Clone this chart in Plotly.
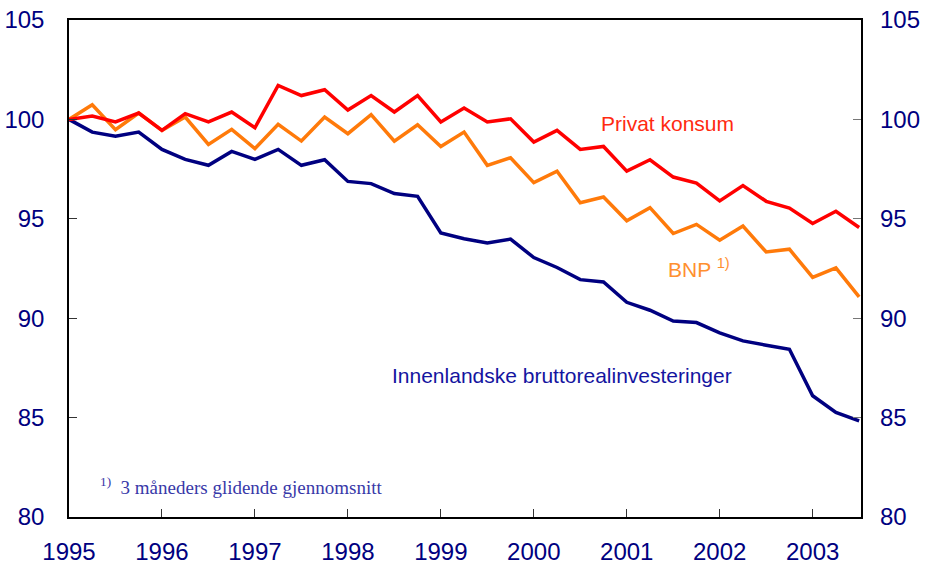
import plotly.graph_objects as go

# Quarterly periods 1995Q1 .. 2003Q3
quarters = [1995 + 0.25 * i for i in range(35)]

privat_konsum = [100.0, 100.17, 99.87, 100.32, 99.45, 100.29, 99.87, 100.37, 99.58, 101.71,
                 101.2, 101.49, 100.47, 101.2, 100.37, 101.2, 99.87, 100.57, 99.87, 100.03,
                 98.86, 99.45, 98.49, 98.64, 97.4, 97.97, 97.1, 96.8, 95.9, 96.67,
                 95.88, 95.54, 94.76, 95.38, 94.56]

bnp = [100.0, 100.74, 99.48, 100.32, 99.45, 100.12, 98.74, 99.5, 98.53, 99.75,
       98.91, 100.12, 99.28, 100.24, 98.91, 99.73, 98.64, 99.36, 97.69, 98.07,
       96.82, 97.39, 95.81, 96.1, 94.9, 95.56, 94.26, 94.72, 93.92, 94.64,
       93.33, 93.47, 92.05, 92.53, 91.07]

investeringer = [100.0, 99.36, 99.16, 99.36, 98.49, 97.99, 97.69, 98.39, 97.99, 98.49,
                 97.69, 97.97, 96.88, 96.77, 96.27, 96.13, 94.29, 94.0, 93.78, 93.98,
                 93.05, 92.55, 91.94, 91.82, 90.8, 90.4, 89.86, 89.78, 89.26, 88.86,
                 88.64, 88.44, 86.1, 85.26, 84.84]

year_ticks = [1995, 1996, 1997, 1998, 1999, 2000, 2001, 2002, 2003]
year_labels = [str(y) for y in year_ticks]
y_ticks = [80, 85, 90, 95, 100, 105]

NAVY = "#000080"
fig = go.Figure()
fig.add_trace(go.Scatter(x=quarters, y=investeringer, mode="lines",
                         line=dict(color=NAVY, width=3.5), hoverinfo="skip"))
fig.add_trace(go.Scatter(x=quarters, y=bnp, mode="lines",
                         line=dict(color="#FF7A0A", width=3.5), hoverinfo="skip"))
fig.add_trace(go.Scatter(x=quarters, y=privat_konsum, mode="lines",
                         line=dict(color="#FF0000", width=3.5), hoverinfo="skip"))
# mirror axis on the right
fig.add_trace(go.Scatter(x=quarters, y=investeringer, mode="lines", yaxis="y2",
                         line=dict(width=0, color="rgba(0,0,0,0)"), hoverinfo="skip"))

tickfont = dict(family="Liberation Sans, Arial", size=24, color=NAVY)
fig.update_layout(
    width=927, height=565,
    margin=dict(l=69, r=66, t=20, b=48, autoexpand=False),
    paper_bgcolor="white", plot_bgcolor="white",
    showlegend=False,
    xaxis=dict(range=[1995, 2003.52], tickvals=year_ticks, ticktext=year_labels,
               ticks="inside", ticklen=8, tickcolor="#333", tickwidth=1,
               showgrid=False, zeroline=False, showline=True, linecolor="black",
               linewidth=1.5, mirror=True, tickfont=tickfont, automargin=False,
               ticklabelstandoff=12),
    yaxis=dict(range=[80, 105], tickvals=y_ticks, ticks="inside", ticklen=8,
               tickcolor="#333", showgrid=False, zeroline=False, showline=True,
               linecolor="black", linewidth=1.5, mirror=True, tickfont=tickfont,
               automargin=False, ticklabelstandoff=18),
    yaxis2=dict(range=[80, 105], tickvals=y_ticks, ticks="inside", ticklen=8,
                tickcolor="#777", overlaying="y", side="right", anchor="x",
                showgrid=False, zeroline=False, showline=False, tickfont=tickfont,
                automargin=False, ticklabelstandoff=18),
)

fig.add_annotation(x=2001.44, y=99.77, xref="x", yref="y", text="Privat konsum",
                   showarrow=False, font=dict(family="Liberation Sans, Arial", size=21, color="#FF2A10"))
fig.add_annotation(x=2001.78, y=92.53, xref="x", yref="y",
                   text="BNP <sup>1)</sup>", showarrow=False,
                   font=dict(family="Liberation Sans, Arial", size=21, color="#FF9030"))
fig.add_annotation(x=2000.30, y=87.14, xref="x", yref="y",
                   text="Innenlandske bruttorealinvesteringer", showarrow=False,
                   font=dict(family="Liberation Sans, Arial", size=21, color="#1414A0"))
fig.add_annotation(x=1995.31, y=81.56, xref="x", yref="y", xanchor="left",
                   text="<sup>1)</sup>  3 måneders glidende gjennomsnitt", showarrow=False,
                   font=dict(family="Liberation Serif, Times New Roman", size=19, color="#3838A8"))

fig.write_html("out.html", config={"displayModeBar": False},
               post_script="document.body.style.margin='0';document.body.style.overflow='hidden';")
